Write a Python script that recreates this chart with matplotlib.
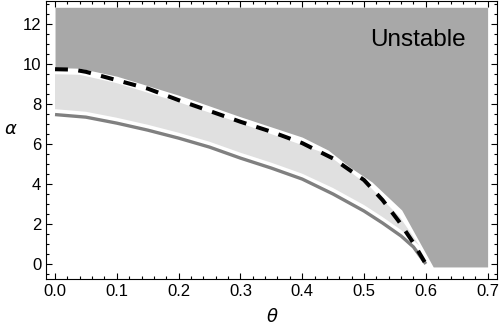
import matplotlib
matplotlib.use("Agg")
import matplotlib.pyplot as plt
from matplotlib.ticker import MultipleLocator
import numpy as np

# --- data ---
# lower edge of the dark "Unstable" region
dark_x = [0.0, 0.04, 0.1, 0.2, 0.3, 0.4, 0.442, 0.477, 0.513, 0.561, 0.612, 0.7]
dark_y = [9.83, 9.8, 9.4, 8.45, 7.37, 6.35, 5.7, 4.85, 4.1, 2.7, -0.15, -0.15]
dark_top = 12.85

# light grey band (top and bottom edges)
band_top_x = [0.0, 0.04, 0.1, 0.2, 0.3, 0.4, 0.44, 0.51, 0.558, 0.59]
band_top_y = [9.5, 9.47, 9.05, 8.1, 7.05, 5.95, 5.5, 3.85, 2.35, 0.9]
band_bot_x = [0.0, 0.05, 0.1, 0.15, 0.2, 0.25, 0.3, 0.35, 0.4, 0.45, 0.5, 0.53, 0.56, 0.59]
band_bot_y = [7.75, 7.62, 7.32, 6.97, 6.57, 6.12, 5.57, 5.07, 4.52, 3.8, 2.95, 2.35, 1.7, 0.9]

# dashed black curve
dash_x = [0.0, 0.03, 0.05, 0.1, 0.15, 0.2, 0.25, 0.3, 0.35, 0.4, 0.45, 0.5, 0.53, 0.556, 0.58, 0.6]
dash_y = [9.75, 9.73, 9.62, 9.2, 8.78, 8.2, 7.66, 7.12, 6.62, 6.05, 5.28, 4.2, 3.2, 2.15, 1.05, 0.0]

# solid grey curve
gray_x = [0.0, 0.05, 0.1, 0.15, 0.2, 0.25, 0.3, 0.35, 0.4, 0.45, 0.5, 0.53, 0.56, 0.58, 0.6]
gray_y = [7.48, 7.35, 7.05, 6.7, 6.3, 5.85, 5.3, 4.8, 4.25, 3.5, 2.65, 2.05, 1.4, 0.85, 0.0]

label_text = "Unstable"
xtick_vals = [0.0, 0.1, 0.2, 0.3, 0.4, 0.5, 0.6, 0.7]

fig = plt.figure(figsize=(5.0, 3.27), dpi=100)
ax = fig.add_axes([0.092, 0.147, 0.902, 0.849])

ax.fill_between(dark_x, dark_y, dark_top, color="#a8a8a8", linewidth=0)

poly_x = list(band_top_x) + list(band_bot_x[::-1])
poly_y = list(band_top_y) + list(band_bot_y[::-1])
ax.fill(poly_x, poly_y, color="#e0e0e0", linewidth=0)

ax.plot(gray_x, gray_y, color="#808080", linewidth=2.4, solid_capstyle="butt")
ax.plot(dash_x, dash_y, color="black", linewidth=2.9, dashes=(3.2, 2.6),
        dash_capstyle="butt")

ax.text(0.587, 11.2, label_text, fontsize=17.5, family="Liberation Sans",
        ha="center", va="center", color="black")

ax.set_xlim(-0.0146, 0.7152)
ax.set_ylim(-0.75, 13.15)

ax.set_xticks(xtick_vals)
ax.set_xticklabels([f"{v:.1f}" for v in xtick_vals])
ax.xaxis.set_minor_locator(MultipleLocator(0.02))
ax.yaxis.set_major_locator(MultipleLocator(2))
ax.yaxis.set_minor_locator(MultipleLocator(0.5))

ax.tick_params(which="both", direction="in", top=True, right=True,
               labelsize=12, width=0.8, colors="black")
ax.tick_params(which="major", length=4)
ax.tick_params(which="minor", length=2)
for lab in ax.get_xticklabels() + ax.get_yticklabels():
    lab.set_family("Liberation Sans")
for s in ax.spines.values():
    s.set_linewidth(0.8)

ax.set_xlabel(r"$\theta$", fontsize=13)
ax.set_ylabel(r"$\alpha$", fontsize=13, rotation=0)
ax.xaxis.set_label_coords(0.501, -0.137)
ax.yaxis.set_label_coords(-0.078, 0.54)
ax.xaxis.label.set_va("center")
ax.yaxis.label.set_va("center")
ax.yaxis.label.set_ha("center")

fig.savefig("out.png", dpi=100)
